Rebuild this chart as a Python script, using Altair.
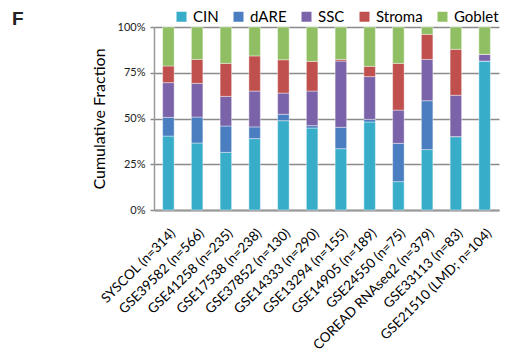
import altair as alt
import pandas as pd

datasets = ["SYSCOL (n=314)", "GSE39582 (n=566)", "GSE41258 (n=235)", "GSE17538 (n=238)",
            "GSE37852 (n=130)", "GSE14333 (n=290)", "GSE13294 (n=155)", "GSE14905 (n=189)",
            "GSE24550 (n=75)", "COREAD RNAseq2 (n=379)", "GSE33113 (n=83)", "GSE21510 (LMD; n=104)"]
subtypes = ["CIN", "dARE", "SSC", "Stroma", "Goblet"]
colors = ["#38ADC9", "#4A7EC1", "#7B63A9", "#C0504D", "#8FBF62"]

cin    = [40.4, 36.6, 31.5, 39.0, 48.8, 44.8, 33.5, 48.1, 15.5, 33.0, 40.1, 81.4]
dare   = [10.2, 14.2, 14.4, 6.4, 3.5, 1.3, 11.7, 1.4, 20.9, 26.7, 0.0, 0.0]
ssc    = [19.0, 18.4, 16.2, 19.6, 11.6, 18.9, 36.2, 23.4, 18.2, 22.6, 22.6, 3.7]
stroma = [9.1, 13.1, 18.0, 19.2, 18.2, 16.2, 0.9, 5.6, 25.5, 13.7, 25.1, 0.0]
goblet = [21.3, 17.7, 19.9, 15.8, 17.9, 18.8, 17.7, 21.5, 19.9, 4.0, 12.2, 14.9]

series = [cin, dare, ssc, stroma, goblet]
rows = []
for si, (name, vals) in enumerate(zip(subtypes, series)):
    for d, v in zip(datasets, vals):
        rows.append({"dataset": d, "subtype": name, "value": v, "order": si})
df = pd.DataFrame(rows)

font = "Lato"

chart = alt.Chart(df).mark_bar(stroke="white", strokeWidth=0.4).encode(
    x=alt.X("dataset:N", sort=datasets,
            scale=alt.Scale(paddingInner=0.6, paddingOuter=0.3),
            axis=alt.Axis(title=None, labelAngle=-45, labelAlign="right", labelBaseline="top",
                          labelFontSize=13.5, labelFont=font, labelColor="#000", labelPadding=16,
                          ticks=False, domainColor="#999", domainWidth=2, labelLimit=300)),
    y=alt.Y("value:Q", stack="normalize",
            scale=alt.Scale(domain=[0, 1]),
            axis=alt.Axis(title="Cumulative Fraction", format=".0%", values=[0, 0.25, 0.5, 0.75, 1],
                          labelFontSize=11, labelFont=font, labelColor="#222", labelPadding=5,
                          titleFont=font, titleFontSize=16, titleFontWeight="normal", titleColor="#000",
                          titlePadding=10, tickColor="#8a8a8a", tickSize=4, tickWidth=1.5,
                          domainColor="#999", domainWidth=1.5,
                          grid=True, gridColor="#8a8a8a", gridWidth=1.5)),
    color=alt.Color("subtype:N", sort=subtypes,
                    scale=alt.Scale(domain=subtypes, range=colors),
                    legend=alt.Legend(title=None, orient="none", direction="horizontal",
                                      legendX=20, legendY=-18, symbolType="square", symbolSize=100,
                                      symbolStrokeWidth=0, labelFontSize=15, labelFont=font,
                                      labelColor="#000", columnPadding=12, labelOffset=4)),
    order=alt.Order("order:Q"),
).properties(
    width=345, height=183,
    padding={"left": 146, "top": 19, "right": 8, "bottom": 146},
    autosize=alt.AutoSizeParams(type="none"),
    title=alt.Title("F", anchor="start", orient="top", frame="group", fontSize=19, fontWeight="bold",
                    font="Liberation Sans", color="#222", dx=-142, dy=35, offset=0,
                    baseline="alphabetic"),
).configure_view(stroke=None)

chart.save("out.html", embed_options={"renderer": "svg", "actions": False})
